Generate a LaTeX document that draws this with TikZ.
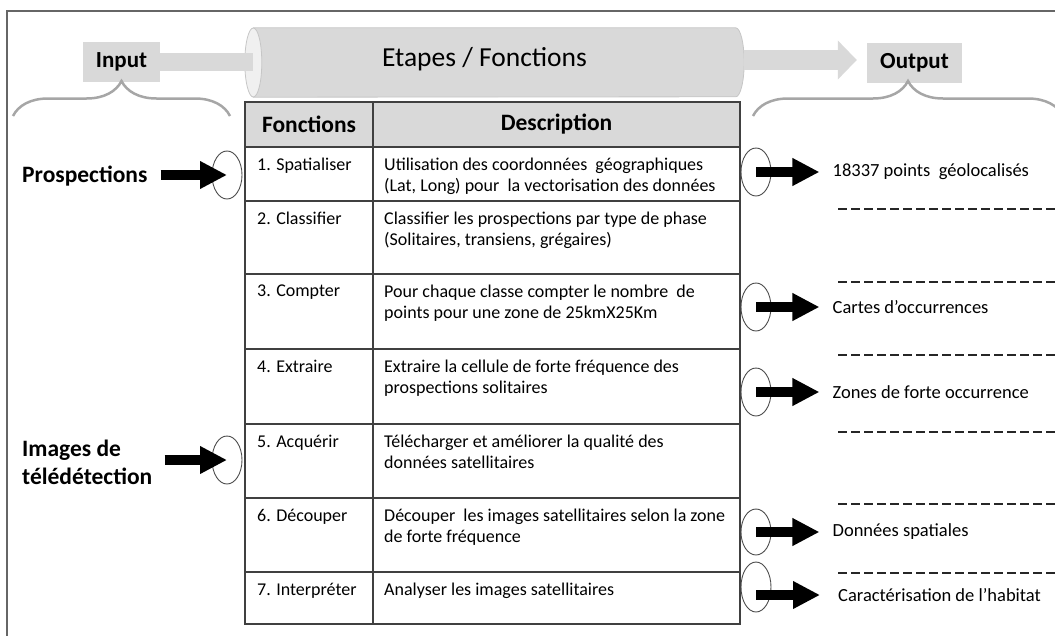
\documentclass[tikz,border=0pt]{standalone}
\usepackage{fontspec}
\setmainfont{Carlito}
\usetikzlibrary{positioning}
\usetikzlibrary{shapes, arrows.meta, decorations.pathreplacing}
\tikzstyle{tag} = [rectangle, fill=gray!30, text centered, minimum height=40pt, font=\bfseries\fontsize{23}{27}\selectfont]
\tikzstyle{head} = [rectangle, draw=black!75, fill=gray!30, line width=1.2pt, minimum height=45pt, font=\bfseries\fontsize{23.5}{27}\selectfont]
\tikzstyle{grid} = [draw=black!75, line width=1.2pt]
\tikzstyle{cell} = [anchor=north west, inner sep=0pt, align=left, font=\fontsize{18}{21}\selectfont]
\tikzstyle{source} = [anchor=west, inner sep=0pt, align=left, font=\bfseries\fontsize{23.5}{28}\selectfont]
\tikzstyle{result} = [anchor=west, inner sep=0pt, font=\fontsize{18.5}{21}\selectfont]
\tikzstyle{ring} = [ellipse, draw=black!70, line width=0.9pt, minimum width=30pt, minimum height=48pt, inner sep=0pt]
\tikzstyle{fat} = [draw, line width=9.5pt, -{Triangle[length=27pt, width=26pt]}]
\tikzstyle{pipe} = [draw=gray!30, line width=18pt]
\tikzstyle{bigpipe} = [draw=gray!30, line width=20pt, -{Triangle[length=19pt, width=38pt]}]
\tikzstyle{drum} = [fill=gray!30, draw=gray!45, line width=0.8pt]
\tikzstyle{brace} = [draw=gray!70, line width=2.5pt, decorate, decoration={brace, amplitude=35pt}]
\tikzstyle{dashline} = [draw=black!85, line width=1.2pt, dash pattern=on 9pt off 4pt]

\begin{document}
\begin{tikzpicture}[x=1pt, y=-1pt, align=center, node distance=61pt]
    \useasboundingbox (0,0) rectangle (1055,635);
    \draw [black!60, line width=1.2pt] (7,11) rectangle (1075,660);

    \node [tag, minimum width=77pt] (input) at (121.5,62) {Input};
    \node [minimum width=499pt, minimum height=69pt, inner sep=0pt] (cyl) at (494.5,62.5) {};
    \node [tag, minimum width=95pt] (output) at (914.5,63) {Output};
    \coordinate (face) at ([xshift=8.5pt]cyl.west);

    \path [drum] ([xshift=8.5pt]cyl.north west) -- ([xshift=-8.5pt]cyl.north east)
        arc (90:-90:8.5pt and 34.5pt) -- ([xshift=8.5pt]cyl.south west) -- cycle;
    \path [drum, fill=gray!12] (face) ellipse (8.5pt and 34.5pt);
    \node [font=\fontsize{27.5}{31}\selectfont] (etapes) at (484.5,59) {Etapes / Fonctions};

    \path [pipe] (input.east) -- (input.east -| face);
    \path [bigpipe] (cyl.east |- 0,60) -- ([xshift=-10pt]output.west |- 0,60);

    \path [brace] (13,116) -- (230,116);
    \path [brace] (753,116) -- (1063,116);

    \node [head, minimum width=128pt] (fhead) at (309,124.5) {Fonctions};
    \node [head, minimum width=367pt] (dhead) at (556.5,124.5) {Description};

    \foreach \ya/\yb/\fn/\dsc [count=\i] in {
        147/201/{1. Spatialiser}/{Utilisation des coordonnées\ \ géographiques\\(Lat, Long) pour\ \ la vectorisation des données},
        201/274/{2. Classifier}/{Classifier les prospections par type de phase\\(Solitaires, transiens, grégaires)},
        274/349/{3. Compter}/{Pour chaque classe compter le nombre\ \ de\\points pour une zone de 25kmX25Km},
        349/424/{4. Extraire}/{Extraire la cellule de forte fréquence des\\prospections solitaires},
        424/498/{5. Acquérir}/{Télécharger et améliorer la qualité des\\données satellitaires},
        498/572/{6. Découper}/{Découper\ \ les images satellitaires selon la zone\\de forte fréquence},
        572/624/{7. Interpréter}/{Analyser les images satellitaires}} {
        \draw [grid] (245,\ya) rectangle (373,\yb) (373,\ya) rectangle (740,\yb);
        \node [cell] (fn\i) at (257,\ya+11) {\fn};
        \node [cell] (dsc\i) at (384,\ya+11) {\dsc};
    }

    \node [source] (prosp) at (22,176) {Prospections};
    \node [ring] (r_prosp) at (227,175) {};
    \node [source] (teledet) at (22,462) {Images de\\télédétection};
    \node [ring] (r_teledet) at (227,460) {};
    \path [fat] ([xshift=13pt]prosp.east |- r_prosp) -- (r_prosp.center);
    \path [fat] ([xshift=12pt]teledet.east |- r_teledet) -- (r_teledet.center);

    \node [ring] (r_pts) at (756,172) {};
    \node [result, right=of r_pts] (pts) {18337 points\ \ géolocalisés};
    \node [ring] (r_cartes) at (756,307) {};
    \node [result, right=of r_cartes] (cartes) {Cartes d’occurrences};
    \node [ring] (r_zones) at (756,392) {};
    \node [result, right=of r_zones] (zones) {Zones de forte occurrence};
    \node [ring, minimum height=46pt] (r_spat) at (756,532) {};
    \node [result, right=of r_spat] (spat) {Données spatiales};
    \node [ring, minimum height=50pt] (r_hab) at (756,587) {};
    \node [result] (hab) at (838,595) {Caractérisation de l’habitat};

    \path [fat] (r_pts.center) -- ([xshift=-13pt]pts.west);
    \path [fat] (r_cartes.center) -- ([xshift=-13pt]cartes.west);
    \path [fat] (r_zones.center) -- ([xshift=-13pt]zones.west);
    \path [fat] (r_spat.center) -- ([xshift=-13pt]spat.west);
    \path [fat] (r_hab |- hab.west) -- ([xshift=-18pt]hab.west);

    \foreach \y in {209,282,355,432,504,573}
        \path [dashline] (838,\y) -- (1060,\y);
\end{tikzpicture}
\end{document}
